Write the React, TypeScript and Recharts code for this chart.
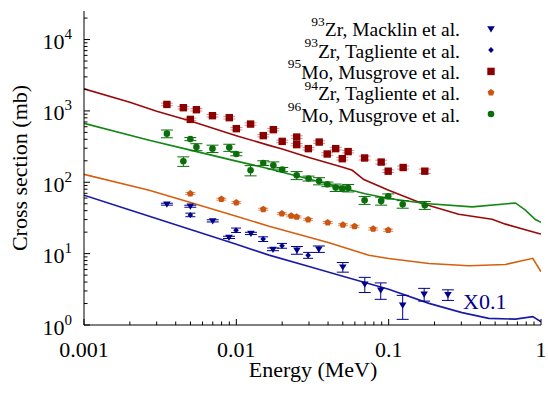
import React from 'react';
import { ComposedChart, Line, Scatter, XAxis, YAxis, ErrorBar } from 'recharts';

// ---------- data (energy in MeV, cross section in mb) ----------
const mo95Energy = [0.0035, 0.00449, 0.00499, 0.00547, 0.00697, 0.00899, 0.01, 0.0124, 0.01503, 0.0175, 0.02, 0.0249, 0.0249, 0.0297, 0.035, 0.0395, 0.0449, 0.0496, 0.0542, 0.0695, 0.0893, 0.0993, 0.1245, 0.1726];
const mo95Sigma = [1233, 1109, 761, 1039, 857, 804, 564, 654, 450, 546, 374, 430, 337, 296, 366, 249, 296, 214, 269, 219, 192, 143, 161, 143];
const mo95Err = [50, 45, 30, 40, 35, 33, 22, 26, 18, 22, 15, 18, 13, 12, 15, 10, 12, 9, 11, 14, 12, 6, 8, 10];

const mo96Energy = [0.0035, 0.00449, 0.00499, 0.00547, 0.00697, 0.00899, 0.01, 0.0124, 0.01503, 0.0175, 0.02, 0.0249, 0.0298, 0.0349, 0.0396, 0.0449, 0.0496, 0.0542, 0.0695, 0.0893, 0.0993, 0.1236, 0.1726];
const mo96Sigma = [480, 197, 403, 312, 296, 306, 249, 147, 186, 173, 151, 125, 113, 104, 93.7, 84.3, 81.7, 83.2, 56, 54.8, 63.7, 49.3, 47.7];
const mo96Err = [60, 30, 20, 35, 35, 35, 14, 24, 14, 20, 10, 16, 9, 12, 7, 10, 7, 10, 7, 7, 5, 6, 6];

const zr94Energy = [0.00499, 0.00798, 0.01, 0.01503, 0.0199, 0.0229, 0.0249, 0.0296, 0.0398, 0.0501, 0.0597, 0.0791, 0.0993];
const zr94Sigma = [69.5, 57.9, 52.0, 41.9, 36.3, 33.8, 32.7, 30.1, 27.3, 25.4, 24.2, 22.2, 21.3];
const zr94Err = [2.2, 1.8, 1.6, 1.3, 1.1, 1.0, 1.0, 0.9, 0.9, 0.8, 0.8, 0.8, 0.8];

const zr93MacklinEnergy = [0.0035, 0.00499, 0.007, 0.00895, 0.01247, 0.0174, 0.025, 0.0348, 0.05, 0.0697, 0.0887, 0.1236, 0.171, 0.245];
const zr93MacklinSigma = [49.3, 46.2, 28.8, 16.9, 19.2, 11.5, 11.2, 11.6, 6.5, 3.75, 3.09, 1.9, 2.71, 2.66];
const zr93MacklinErr = [1.5, 1.5, 1.0, 0.6, 0.7, 0.5, 1.4, 1.2, 1.0, 0.9, 0.8, 0.7, 0.55, 0.45];

const zr93TaglienteEnergy = [0.00499, 0.00996, 0.015, 0.01995, 0.0296];
const zr93TaglienteSigma = [34.9, 21.3, 16.0, 12.9, 9.5];
const zr93TaglienteErr = [2.0, 1.5, 1.2, 1.0, 0.9];

// model curves
const mo95CurveE = [0.001, 0.002, 0.003, 0.005, 0.01, 0.0164, 0.02, 0.03, 0.05, 0.0577, 0.0687, 0.1, 0.166, 0.288, 0.477, 0.585, 0.966, 1];
const mo95CurveY = [2040, 1320, 990, 720, 450, 329, 292, 222, 162, 147, 109, 77.3, 50.4, 35.7, 30.4, 25.9, 19.2, 18.8];

const mo96CurveE = [0.001, 0.00268, 0.005, 0.01, 0.0164, 0.02, 0.03, 0.0471, 0.07, 0.1, 0.1745, 0.353, 0.68, 0.79, 0.918, 1];
const mo96CurveY = [670, 387, 282, 198, 155, 138, 111, 86, 69, 59.2, 50.4, 45.2, 51.3, 40.6, 30.1, 27.5];

const zr94CurveE = [0.001, 0.00268, 0.005, 0.01, 0.0164, 0.0222, 0.0406, 0.0741, 0.1, 0.184, 0.336, 0.585, 0.883, 1];
const zr94CurveY = [129, 77.3, 52, 33.5, 24.2, 20.2, 14.2, 9.5, 8.57, 7.29, 6.75, 7.06, 8.6, 5.56];

const zr93CurveE = [0.001, 0.002, 0.005, 0.01, 0.0164, 0.03, 0.05, 0.1, 0.184, 0.303, 0.454, 0.679, 0.883, 1];
const zr93CurveY = [66, 40.9, 21.8, 13.5, 9.53, 6.6, 4.83, 3.17, 2.01, 1.49, 1.24, 1.21, 1.31, 1.11];

// axes
const xMajorTicks = [0.001, 0.01, 0.1, 1];
const xTickLabels = ['0.001', '0.01', '0.1', '1'];
const yMajorTicks = [1, 10, 100, 1000, 10000];
const yTickExponents = ['0', '1', '2', '3', '4'];
const minorMultipliers = [2, 3, 4, 5, 6, 7, 8, 9];
const xDomain = [0.001, 1];
const yDomain = [1, 25119];

// legend
const legendMass = ['93', '93', '95', '94', '96'];
const legendText = ['Zr, Macklin et al.', 'Zr, Tagliente et al.', 'Mo, Musgrove et al.', 'Zr, Tagliente et al.', 'Mo, Musgrove et al.'];
const legendMarker = ['tri', 'dot', 'square', 'pent', 'circle'];
const annotation = 'X0.1';
const xTitle = 'Energy (MeV)';
const yTitle = 'Cross section (mb)';

// ---------- styling ----------
const FONT = '"Liberation Serif", Tinos, "Times New Roman", Times, "DejaVu Serif", serif';
const RED = '#8b0000';
const RED_LINE = '#990a0a';
const GREEN = '#0a6e0a';
const GREEN_LINE = '#138613';
const ORANGE = '#cc5511';
const ORANGE_LINE = '#d4600f';
const BLUE = '#00008b';
const BLUE_LINE = '#1a1aa8';
const legendColor = [BLUE, BLUE, RED, ORANGE, GREEN];

const W = 548;
const H = 396;

const pts = (xs: number[], ys: number[], es?: number[]) =>
  xs.map((x, i) => ({ x, y: ys[i], err: es ? es[i] : 0 }));

const withMinor = (majors: number[]) => {
  const all: number[] = [];
  majors.forEach((m, i) => {
    all.push(m);
    if (i < majors.length - 1) minorMultipliers.forEach((k) => all.push(m * k));
  });
  return all;
};
const xTicks = withMinor(xMajorTicks);
const yTicks = withMinor(yMajorTicks).concat([20000]);

const isMajor = (list: number[], v: number) => list.findIndex((t) => Math.abs(t - v) / t < 1e-6);

const drawMarker = (kind: string, cx: number, cy: number, color: string) => {
  switch (kind) {
    case 'square':
      return <rect x={cx - 3.7} y={cy - 3.7} width={7.4} height={7.4} fill={color} />;
    case 'circle':
      return <circle cx={cx} cy={cy} r={3.3} fill={color} />;
    case 'tri':
      return <polygon points={`${cx - 3.8},${cy - 2.6} ${cx + 3.8},${cy - 2.6} ${cx},${cy + 3.6}`} fill={color} />;
    case 'dot':
      return <polygon points={`${cx},${cy - 3} ${cx + 2.8},${cy} ${cx},${cy + 3} ${cx - 2.8},${cy}`} fill={color} />;
    case 'pent': {
      const r = 3.6;
      const p = [0, 1, 2, 3, 4]
        .map((i) => {
          const a = -Math.PI / 2 + (i * 2 * Math.PI) / 5;
          return `${cx + r * Math.cos(a)},${cy + r * Math.sin(a)}`;
        })
        .join(' ');
      return <polygon points={p} fill={color} />;
    }
    default:
      return null;
  }
};

const shapeOf = (kind: string, color: string) => (props: any) => (
  <g>{drawMarker(kind, props.cx, props.cy, color)}</g>
);

// ---------- ticks ----------
const XTickBottom = (props: any) => {
  const { x, y, payload } = props;
  const idx = isMajor(xMajorTicks, payload.value);
  return (
    <g>
      <line x1={x} x2={x} y1={y} y2={y - (idx >= 0 ? 6 : 3.5)} stroke="#000" strokeWidth={1} />
      {idx >= 0 && (
        <text x={x} y={y + 32} textAnchor="middle" fontSize={22} fontFamily={FONT} fill="#000">
          {xTickLabels[idx]}
        </text>
      )}
    </g>
  );
};
const XTickTop = (props: any) => {
  const { x, y, payload } = props;
  const idx = isMajor(xMajorTicks, payload.value);
  return <line x1={x} x2={x} y1={y} y2={y + (idx >= 0 ? 6 : 3.5)} stroke="#000" strokeWidth={1} />;
};
const YTickLeft = (props: any) => {
  const { x, y, payload } = props;
  const idx = isMajor(yMajorTicks, payload.value);
  return (
    <g>
      <line x1={x} x2={x + (idx >= 0 ? 6 : 3.5)} y1={y} y2={y} stroke="#000" strokeWidth={1} />
      {idx >= 0 && (
        <text x={x - 12} y={y + 9.5} textAnchor="end" fontSize={22} fontFamily={FONT} fill="#000">
          <tspan>10</tspan>
          <tspan dy={-10} fontSize={15}>{yTickExponents[idx]}</tspan>
        </text>
      )}
    </g>
  );
};
const YTickRight = (props: any) => {
  const { x, y, payload } = props;
  const idx = isMajor(yMajorTicks, payload.value);
  return <line x1={x} x2={x - (idx >= 0 ? 6 : 3.5)} y1={y} y2={y} stroke="#000" strokeWidth={1} />;
};

const legendBaselines = [36.3, 57.6, 78.9, 100.2, 121.5];

export default function App() {
  const axisCommonX = {
    type: 'number' as const,
    scale: 'log' as const,
    domain: xDomain,
    ticks: xTicks,
    allowDataOverflow: true,
    interval: 0 as const,
    tickSize: 0,
    tickMargin: 0,
    tickLine: false,
    axisLine: { stroke: '#000', strokeWidth: 1 },
  };
  const axisCommonY = {
    type: 'number' as const,
    scale: 'log' as const,
    domain: yDomain,
    ticks: yTicks,
    allowDataOverflow: true,
    interval: 0 as const,
    tickSize: 0,
    tickMargin: 0,
    tickLine: false,
    axisLine: { stroke: '#000', strokeWidth: 1 },
  };
  return (
    <div style={{ position: 'absolute', left: 0, top: 0, width: W, height: H, background: '#fff' }}>
      <ComposedChart width={W} height={H} margin={{ top: 11, right: 7, bottom: 0, left: 0 }}>
        <XAxis xAxisId="b" dataKey="x" orientation="bottom" height={71} tick={<XTickBottom />} {...axisCommonX} />
        <XAxis xAxisId="t" orientation="top" height={0} tick={<XTickTop />} {...axisCommonX} />
        <YAxis yAxisId="l" dataKey="y" orientation="left" width={84} tick={<YTickLeft />} {...axisCommonY} />
        <YAxis yAxisId="r" orientation="right" width={0} tick={<YTickRight />} {...axisCommonY} />

        <Line xAxisId="b" yAxisId="l" data={pts(mo95CurveE, mo95CurveY)} dataKey="y" stroke={RED_LINE} strokeWidth={1.6} dot={false} isAnimationActive={false} />
        <Line xAxisId="b" yAxisId="l" data={pts(mo96CurveE, mo96CurveY)} dataKey="y" stroke={GREEN_LINE} strokeWidth={1.6} dot={false} isAnimationActive={false} />
        <Line xAxisId="b" yAxisId="l" data={pts(zr94CurveE, zr94CurveY)} dataKey="y" stroke={ORANGE_LINE} strokeWidth={1.6} dot={false} isAnimationActive={false} />
        <Line xAxisId="b" yAxisId="l" data={pts(zr93CurveE, zr93CurveY)} dataKey="y" stroke={BLUE_LINE} strokeWidth={1.6} dot={false} isAnimationActive={false} />

        <Scatter xAxisId="b" yAxisId="l" data={pts(mo95Energy, mo95Sigma, mo95Err)} dataKey="y" shape={shapeOf('square', RED)} isAnimationActive={false}>
          <ErrorBar dataKey="err" direction="y" width={6} stroke="#d09090" strokeWidth={1} />
        </Scatter>
        <Scatter xAxisId="b" yAxisId="l" data={pts(mo96Energy, mo96Sigma, mo96Err)} dataKey="y" shape={shapeOf('circle', GREEN)} isAnimationActive={false}>
          <ErrorBar dataKey="err" direction="y" width={6} stroke={GREEN} strokeWidth={1} />
        </Scatter>
        <Scatter xAxisId="b" yAxisId="l" data={pts(zr94Energy, zr94Sigma, zr94Err)} dataKey="y" shape={shapeOf('pent', ORANGE)} isAnimationActive={false}>
          <ErrorBar dataKey="err" direction="y" width={5} stroke="#e09060" strokeWidth={1} />
        </Scatter>
        <Scatter xAxisId="b" yAxisId="l" data={pts(zr93MacklinEnergy, zr93MacklinSigma, zr93MacklinErr)} dataKey="y" shape={shapeOf('tri', BLUE)} isAnimationActive={false}>
          <ErrorBar dataKey="err" direction="y" width={6} stroke={BLUE} strokeWidth={1} />
        </Scatter>
        <Scatter xAxisId="b" yAxisId="l" data={pts(zr93TaglienteEnergy, zr93TaglienteSigma, zr93TaglienteErr)} dataKey="y" shape={shapeOf('dot', BLUE)} isAnimationActive={false}>
          <ErrorBar dataKey="err" direction="y" width={5} stroke={BLUE} strokeWidth={1} />
        </Scatter>
      </ComposedChart>

      <svg width={W} height={H} style={{ position: 'absolute', left: 0, top: 0, pointerEvents: 'none' }}>
        {legendText.map((t, i) => (
          <g key={i}>
            <text x={460} y={legendBaselines[i]} textAnchor="end" fontSize={19.5} fontFamily={FONT} fill="#000">
              <tspan fontSize={13.5} dy={-10.5}>{legendMass[i]}</tspan>
              <tspan dy={10.5}>{t}</tspan>
            </text>
            {drawMarker(legendMarker[i], 491, legendBaselines[i] - 7.5, legendColor[i])}
          </g>
        ))}
        <text x={463} y={309} fontSize={22} fontFamily={FONT} fill={BLUE}>{annotation}</text>
        <text x={313} y={377} textAnchor="middle" fontSize={22} fontFamily={FONT} fill="#000">{xTitle}</text>
        <text x={-168} y={26.5} transform="rotate(-90)" textAnchor="middle" fontSize={22} fontFamily={FONT} fill="#000">{yTitle}</text>
      </svg>
    </div>
  );
}
